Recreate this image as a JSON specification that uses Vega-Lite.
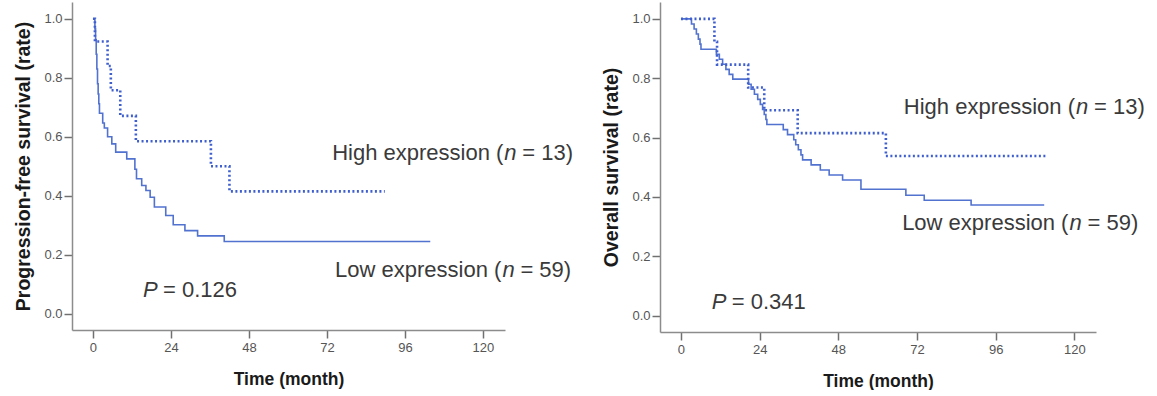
{
  "$schema": "https://vega.github.io/schema/vega-lite/v6.json",
  "background": "white",
  "padding": {"left": 13, "top": 2, "right": 0, "bottom": 0},
  "bounds": "flush",
  "spacing": 155,
  "config": {
    "view": {"stroke": null},
    "font": "Liberation Sans",
    "axis": {"grid": false, "domainColor": "#8c8c8c", "domainWidth": 1.5, "tickColor": "#707070", "tickWidth": 1.5, "tickSize": 8, "labelColor": "#555555", "labelFont": "Liberation Sans", "labelFontSize": 13, "titleFont": "Liberation Sans", "titleFontWeight": "bold", "titleColor": "#1a1a1a"},
    "axisX": {"titleFontSize": 17.5, "labelPadding": 3, "titlePadding": 16},
    "axisY": {"titleFontSize": 19.5, "labelPadding": 2, "titlePadding": 10}
  },
  "datasets": {
    "pfs": [
      {"group": "High", "t": 0, "s": 1.0}, {"group": "High", "t": 0.6, "s": 0.923}, {"group": "High", "t": 4.5, "s": 0.84}, {"group": "High", "t": 5.5, "s": 0.758}, {"group": "High", "t": 8.4, "s": 0.671}, {"group": "High", "t": 13.2, "s": 0.585}, {"group": "High", "t": 36.3, "s": 0.5}, {"group": "High", "t": 42, "s": 0.415}, {"group": "High", "t": 89.8, "s": 0.415},
      {"group": "Low", "t": 0, "s": 1.0}, {"group": "Low", "t": 0.6, "s": 0.966}, {"group": "Low", "t": 0.8, "s": 0.93}, {"group": "Low", "t": 1.0, "s": 0.88}, {"group": "Low", "t": 1.2, "s": 0.83}, {"group": "Low", "t": 1.4, "s": 0.78}, {"group": "Low", "t": 1.6, "s": 0.745}, {"group": "Low", "t": 1.8, "s": 0.712}, {"group": "Low", "t": 2.0, "s": 0.68}, {"group": "Low", "t": 3.0, "s": 0.647}, {"group": "Low", "t": 3.5, "s": 0.63}, {"group": "Low", "t": 4.5, "s": 0.6}, {"group": "Low", "t": 5.8, "s": 0.576}, {"group": "Low", "t": 7.0, "s": 0.548}, {"group": "Low", "t": 10.4, "s": 0.525}, {"group": "Low", "t": 12.9, "s": 0.49}, {"group": "Low", "t": 13.4, "s": 0.458}, {"group": "Low", "t": 15.0, "s": 0.435}, {"group": "Low", "t": 16.3, "s": 0.418}, {"group": "Low", "t": 17.6, "s": 0.395}, {"group": "Low", "t": 18.9, "s": 0.362}, {"group": "Low", "t": 22.4, "s": 0.333}, {"group": "Low", "t": 24.7, "s": 0.302}, {"group": "Low", "t": 28.3, "s": 0.282}, {"group": "Low", "t": 32.2, "s": 0.264}, {"group": "Low", "t": 40.4, "s": 0.245}, {"group": "Low", "t": 103.8, "s": 0.245}
    ],
    "os": [
      {"group": "High", "t": 0, "s": 1.0}, {"group": "High", "t": 10.2, "s": 0.923}, {"group": "High", "t": 11.0, "s": 0.846}, {"group": "High", "t": 20.5, "s": 0.769}, {"group": "High", "t": 25.4, "s": 0.692}, {"group": "High", "t": 35.6, "s": 0.615}, {"group": "High", "t": 62.5, "s": 0.538}, {"group": "High", "t": 111.3, "s": 0.538},
      {"group": "Low", "t": 0, "s": 1.0}, {"group": "Low", "t": 3.2, "s": 0.983}, {"group": "Low", "t": 4.0, "s": 0.966}, {"group": "Low", "t": 4.7, "s": 0.949}, {"group": "Low", "t": 5.3, "s": 0.932}, {"group": "Low", "t": 5.8, "s": 0.915}, {"group": "Low", "t": 6.1, "s": 0.898}, {"group": "Low", "t": 10.8, "s": 0.881}, {"group": "Low", "t": 11.7, "s": 0.864}, {"group": "Low", "t": 12.7, "s": 0.847}, {"group": "Low", "t": 13.7, "s": 0.83}, {"group": "Low", "t": 14.7, "s": 0.813}, {"group": "Low", "t": 15.8, "s": 0.797}, {"group": "Low", "t": 20.6, "s": 0.78}, {"group": "Low", "t": 21.4, "s": 0.763}, {"group": "Low", "t": 22.4, "s": 0.746}, {"group": "Low", "t": 23.4, "s": 0.729}, {"group": "Low", "t": 24.2, "s": 0.712}, {"group": "Low", "t": 24.9, "s": 0.695}, {"group": "Low", "t": 25.4, "s": 0.678}, {"group": "Low", "t": 25.9, "s": 0.661}, {"group": "Low", "t": 26.2, "s": 0.644}, {"group": "Low", "t": 31.2, "s": 0.627}, {"group": "Low", "t": 32.5, "s": 0.61}, {"group": "Low", "t": 34.4, "s": 0.593}, {"group": "Low", "t": 35.0, "s": 0.576}, {"group": "Low", "t": 35.8, "s": 0.559}, {"group": "Low", "t": 36.6, "s": 0.542}, {"group": "Low", "t": 37.1, "s": 0.525}, {"group": "Low", "t": 39.7, "s": 0.508}, {"group": "Low", "t": 42.5, "s": 0.491}, {"group": "Low", "t": 45.2, "s": 0.474}, {"group": "Low", "t": 49.3, "s": 0.457}, {"group": "Low", "t": 54.9, "s": 0.426}, {"group": "Low", "t": 68.6, "s": 0.406}, {"group": "Low", "t": 74.2, "s": 0.389}, {"group": "Low", "t": 88.5, "s": 0.373}, {"group": "Low", "t": 110.8, "s": 0.373}
    ],
    "pfsLab": [
      {"t": 126.6, "s": 0.544, "lead": "High expression (", "ital": "n", "rest": "= 13)"},
      {"t": 126.0, "s": 0.147, "lead": "Low expression (", "ital": "n", "rest": "= 59)"}
    ],
    "pfsP": [{"t": 15.4, "s": 0.08, "ital": "P", "rest": "= 0.126"}],
    "osLab": [
      {"t": 120.5, "s": 0.704, "lead": "High expression (", "ital": "n", "rest": "= 13)"},
      {"t": 118.5, "s": 0.312, "lead": "Low expression (", "ital": "n", "rest": "= 59)"}
    ],
    "osP": [{"t": 9.4, "s": 0.046, "ital": "P", "rest": "= 0.341"}]
  },
  "hconcat": [
    {
      "width": 433,
      "height": 328,
      "encoding": {
        "x": {"field": "t", "type": "quantitative", "scale": {"domain": [-6.45, 126.8], "nice": false, "zero": false}, "axis": {"values": [0, 24, 48, 72, 96, 120], "title": "Time (month)"}},
        "y": {"field": "s", "type": "quantitative", "scale": {"domain": [-0.055, 1.057], "nice": false, "zero": false}, "axis": {"values": [0, 0.2, 0.4, 0.6, 0.8, 1.0], "format": ".1f", "title": "Progression-free survival (rate)"}}
      },
      "layer": [
        {"data": {"name": "pfs"}, "transform": [{"filter": "datum.group === 'Low'"}], "mark": {"type": "line", "interpolate": "step-after", "color": "#5272d0", "strokeWidth": 1.6}},
        {"data": {"name": "pfs"}, "transform": [{"filter": "datum.group === 'High'"}], "mark": {"type": "line", "interpolate": "step-after", "color": "#3f5fcf", "strokeWidth": 2.6, "strokeDash": [2, 2.5]}},
        {"data": {"name": "pfsLab"}, "mark": {"type": "text", "align": "right", "baseline": "middle", "dx": -1, "fontSize": 22, "color": "#3a3a3a"}, "encoding": {"text": {"field": "lead"}}},
        {"data": {"name": "pfsLab"}, "mark": {"type": "text", "align": "left", "baseline": "middle", "fontSize": 22, "fontStyle": "italic", "color": "#3a3a3a"}, "encoding": {"text": {"field": "ital"}}},
        {"data": {"name": "pfsLab"}, "mark": {"type": "text", "align": "left", "baseline": "middle", "dx": 18, "fontSize": 22, "color": "#3a3a3a"}, "encoding": {"text": {"field": "rest"}}},
        {"data": {"name": "pfsP"}, "mark": {"type": "text", "align": "left", "baseline": "middle", "fontSize": 22, "fontStyle": "italic", "color": "#3a3a3a"}, "encoding": {"text": {"field": "ital"}}},
        {"data": {"name": "pfsP"}, "mark": {"type": "text", "align": "left", "baseline": "middle", "dx": 20, "fontSize": 22, "color": "#3a3a3a"}, "encoding": {"text": {"field": "rest"}}}
      ]
    },
    {
      "width": 436,
      "height": 330,
      "encoding": {
        "x": {"field": "t", "type": "quantitative", "scale": {"domain": [-6.4, 126.6], "nice": false, "zero": false}, "axis": {"values": [0, 24, 48, 72, 96, 120], "title": "Time (month)"}},
        "y": {"field": "s", "type": "quantitative", "scale": {"domain": [-0.055, 1.057], "nice": false, "zero": false}, "axis": {"values": [0, 0.2, 0.4, 0.6, 0.8, 1.0], "format": ".1f", "title": "Overall survival (rate)"}}
      },
      "layer": [
        {"data": {"name": "os"}, "transform": [{"filter": "datum.group === 'Low'"}], "mark": {"type": "line", "interpolate": "step-after", "color": "#5272d0", "strokeWidth": 1.6}},
        {"data": {"name": "os"}, "transform": [{"filter": "datum.group === 'High'"}], "mark": {"type": "line", "interpolate": "step-after", "color": "#3f5fcf", "strokeWidth": 2.6, "strokeDash": [2, 2.5]}},
        {"data": {"name": "osLab"}, "mark": {"type": "text", "align": "right", "baseline": "middle", "dx": -1, "fontSize": 22, "color": "#3a3a3a"}, "encoding": {"text": {"field": "lead"}}},
        {"data": {"name": "osLab"}, "mark": {"type": "text", "align": "left", "baseline": "middle", "fontSize": 22, "fontStyle": "italic", "color": "#3a3a3a"}, "encoding": {"text": {"field": "ital"}}},
        {"data": {"name": "osLab"}, "mark": {"type": "text", "align": "left", "baseline": "middle", "dx": 18, "fontSize": 22, "color": "#3a3a3a"}, "encoding": {"text": {"field": "rest"}}},
        {"data": {"name": "osP"}, "mark": {"type": "text", "align": "left", "baseline": "middle", "fontSize": 22, "fontStyle": "italic", "color": "#3a3a3a"}, "encoding": {"text": {"field": "ital"}}},
        {"data": {"name": "osP"}, "mark": {"type": "text", "align": "left", "baseline": "middle", "dx": 20, "fontSize": 22, "color": "#3a3a3a"}, "encoding": {"text": {"field": "rest"}}}
      ]
    }
  ]
}
